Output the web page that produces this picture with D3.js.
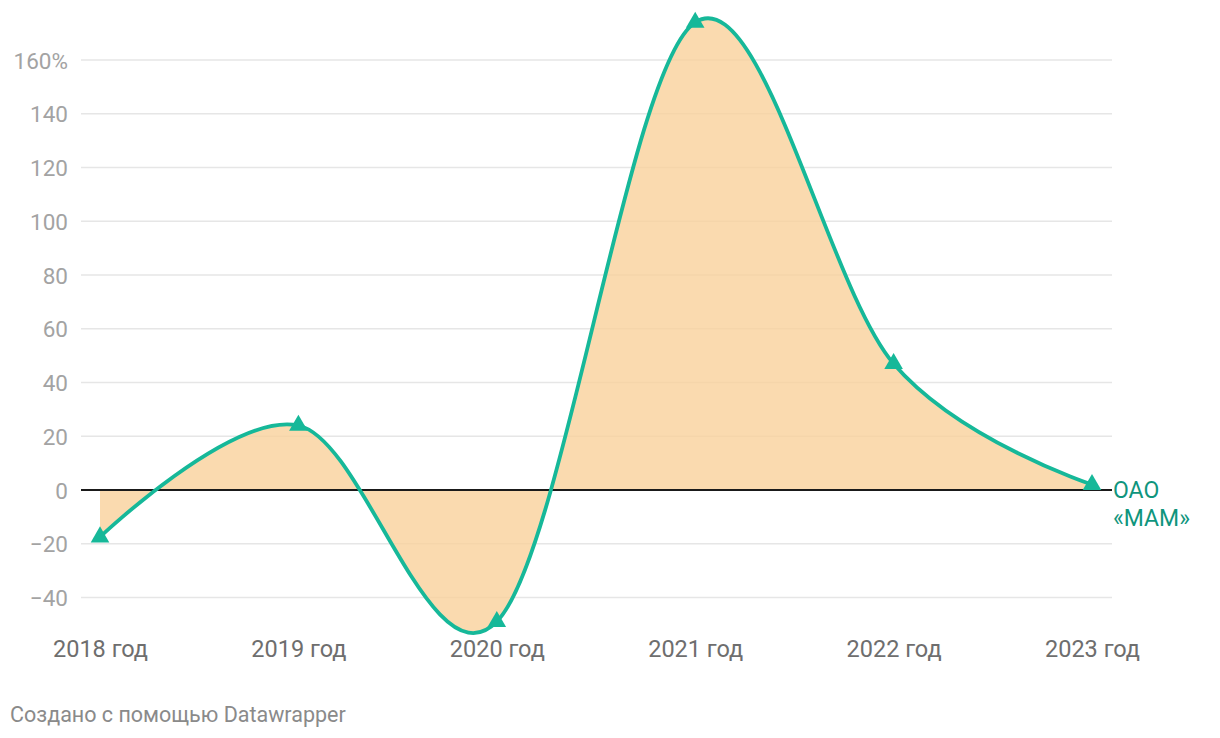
<!DOCTYPE html>
<html>
<head>
<meta charset="utf-8">
<script src="https://cdn.jsdelivr.net/npm/d3@7"></script>
<style>
  html, body { margin: 0; padding: 0; background: #fff; }
  svg text { font-family: Roboto, "Noto Sans", sans-serif; }
</style>
</head>
<body>
<svg id="chart" width="1220" height="738"></svg>
<script>
const years = ["2018 год", "2019 год", "2020 год", "2021 год", "2022 год", "2023 год"];
const values = [-17.5, 24, -49, 174, 47, 2];
const yTicks = [-40, -20, 0, 20, 40, 60, 80, 100, 120, 140, 160];
const seriesName = ["ОАО", "«МАМ»"];
const footer = "Создано с помощью Datawrapper";

const svg = d3.select("#chart");
const x = d3.scalePoint().domain(years).range([100, 1092]);
const y = d3.scaleLinear().domain([0, 160]).range([490, 60]);
const gridX0 = 81, gridX1 = 1112;

// grid + y labels
const yAxis = d3.axisLeft(y).tickValues(yTicks)
  .tickFormat(d => d === 160 ? "160%" : (d < 0 ? "\u2212" + Math.abs(d) : String(d)))
  .tickSize(0).tickPadding(13);
const gy = svg.append("g").attr("transform", `translate(${gridX0},0)`).call(yAxis);
gy.select(".domain").remove();
gy.selectAll("text").attr("fill", "#a3a3a3").attr("font-size", 22.5).attr("dy", "0.36em");
svg.append("g").selectAll("line").data(yTicks.filter(d => d !== 0)).join("line")
  .attr("x1", gridX0).attr("x2", gridX1)
  .attr("y1", d => y(d)).attr("y2", d => y(d))
  .attr("stroke", "#e6e6e6").attr("stroke-width", 1.5);

// area
const data = years.map((k, i) => ({k, v: values[i]}));
const curve = d3.curveCardinal.tension(0);
const area = d3.area().x(d => x(d.k)).y0(y(0)).y1(d => y(d.v)).curve(curve);
svg.append("path").datum(data).attr("d", area).attr("fill", "#f9d19b").attr("fill-opacity", 0.8);

// zero line
svg.append("line").attr("x1", gridX0).attr("x2", gridX1).attr("y1", y(0)).attr("y2", y(0))
  .attr("stroke", "#1a1a1a").attr("stroke-width", 2);

// line
const line = d3.line().x(d => x(d.k)).y(d => y(d.v)).curve(curve);
svg.append("path").datum(data).attr("d", line).attr("fill", "none")
  .attr("stroke", "#16b899").attr("stroke-width", 3.8);

// markers
const tri = d3.symbol().type(d3.symbolTriangle).size(150);
svg.append("g").selectAll("path").data(data).join("path")
  .attr("d", tri).attr("transform", d => `translate(${x(d.k)},${y(d.v)})`)
  .attr("fill", "#16b899");

// x axis labels
const xAxis = d3.axisBottom(x).tickSize(0).tickPadding(0);
const gx = svg.append("g").attr("transform", "translate(0,657)").call(xAxis);
gx.select(".domain").remove();
gx.selectAll("text").attr("fill", "#6e6e6e").attr("font-size", 23.5).attr("dy", "0");

// series label
svg.append("g").selectAll("text").data(seriesName).join("text")
  .attr("x", 1113).attr("y", (d, i) => 498 + i * 28)
  .attr("fill", "#0f957d").attr("font-size", 23).text(d => d);

// footer
svg.append("text").attr("x", 10).attr("y", 722).attr("fill", "#8a8a8a")
  .attr("font-size", 21.5).text(footer);
</script>
</body>
</html>
